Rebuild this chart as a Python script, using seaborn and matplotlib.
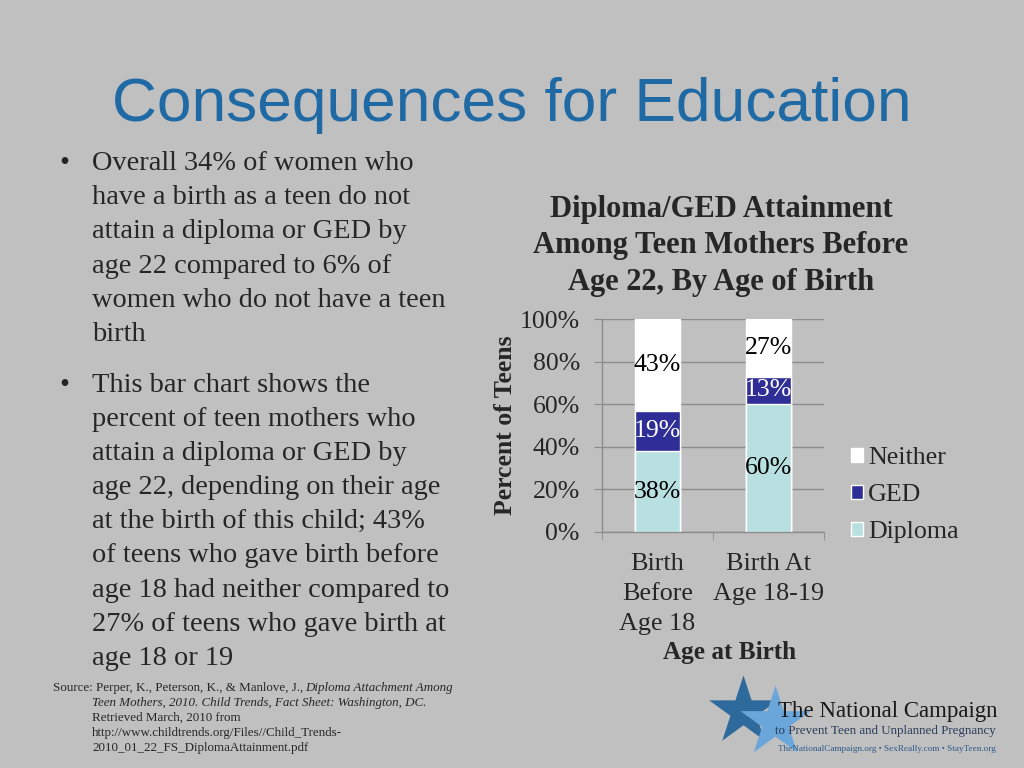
import matplotlib.pyplot as plt
import numpy as np
import pandas as pd
import seaborn as sns
from matplotlib.patches import Patch

# data
groups = ['Birth\nBefore\nAge 18', 'Birth At\nAge 18-19']
diploma = [38, 60]
ged = [19, 13]
neither = [43, 27]
yticks = [0, 20, 40, 60, 80, 100]

bullet1 = ['Overall 34% of women who',
           'have a birth as a teen do not',
           'attain a diploma or GED by',
           'age 22 compared to 6% of',
           'women who do not have a teen',
           'birth']
bullet2 = ['This bar chart shows the',
           'percent of teen mothers who',
           'attain a diploma or GED by',
           'age 22, depending on their age',
           'at the birth of this child; 43%',
           'of teens who gave birth before',
           'age 18 had neither compared to',
           '27% of teens who gave birth at',
           'age 18 or 19']

bg = '#c0c0c0'
title_col = '#1f6aa5'
ged_col = '#2e2e96'
dip_col = '#b8e0e0'
grid_col = '#8c8c8c'

sns.set_style('white')
plt.rcParams['font.family'] = ['Liberation Serif', 'DejaVu Serif']

W, H = 1024, 768
def fx(x):
    return x / W
def fy(y):
    return 1 - y / H

df = pd.DataFrame({'group': groups, 'Diploma': diploma, 'GED': ged, 'Neither': neither})
df['ged_top'] = df['Diploma'] + df['GED']
df['top'] = df['ged_top'] + df['Neither']

fig = plt.figure(figsize=(10.24, 7.68), dpi=100, facecolor=bg)

# slide title
fig.text(fx(512), fy(105), 'Consequences for Education', ha='center', va='center',
         fontsize=44.8, color=title_col, family='Liberation Sans')

# bullets
bfs = 20.4
y = 163
for i, line in enumerate(bullet1):
    if i == 0:
        fig.text(fx(59), fy(y), '•', ha='left', va='center', fontsize=bfs)
    fig.text(fx(92), fy(y), line, ha='left', va='center', fontsize=bfs)
    y += 34.4
y = 385
for i, line in enumerate(bullet2):
    if i == 0:
        fig.text(fx(59), fy(y), '•', ha='left', va='center', fontsize=bfs)
    fig.text(fx(92), fy(y), line, ha='left', va='center', fontsize=bfs)
    y += 34.2

# source
fs = 9.4
fig.text(fx(53), fy(688), 'Source: Perper, K., Peterson, K., & Manlove, J., ', va='center', fontsize=fs)
fig.text(fx(305), fy(688), 'Diploma Attachment Among', va='center', fontsize=fs, style='italic')
fig.text(fx(92), fy(703), 'Teen Mothers, 2010. Child Trends, Fact Sheet: Washington, DC.',
         va='center', fontsize=fs, style='italic')
fig.text(fx(92), fy(718), 'Retrieved March, 2010 from', va='center', fontsize=fs)
fig.text(fx(92), fy(733), 'http://www.childtrends.org/Files//Child_Trends-', va='center', fontsize=fs)
fig.text(fx(92), fy(748), '2010_01_22_FS_DiplomaAttainment.pdf', va='center', fontsize=fs)

# chart title
fig.text(fx(721), fy(246), 'Diploma/GED Attainment\nAmong Teen Mothers Before\nAge 22, By Age of Birth',
         ha='center', va='center', fontsize=22, fontweight='bold', linespacing=1.33)

# chart
ax = fig.add_axes([fx(602), fy(532), 222 / W, 213 / H])
ax.set_facecolor(bg)
sns.barplot(data=df, x='group', y='top', color='white', width=0.4, saturation=1, ax=ax, zorder=2)
sns.barplot(data=df, x='group', y='ged_top', color=ged_col, width=0.4, saturation=1, ax=ax, zorder=2)
sns.barplot(data=df, x='group', y='Diploma', color=dip_col, width=0.4, saturation=1, ax=ax, zorder=2)

for i in range(len(groups)):
    segs = [(0, diploma[i], 'black'), (diploma[i], ged[i], 'white'),
            (diploma[i] + ged[i], neither[i], 'black')]
    for bottom, val, col in segs:
        ax.text(i, bottom + val / 2, f'{val}%', ha='center', va='center',
                fontsize=18.5, color=col, zorder=3)

ax.set_ylim(0, 100)
ax.set_xlim(-0.5, 1.5)
ax.set_yticks(yticks)
ax.set_yticklabels([f'{v}%' for v in yticks], fontsize=18.5)
ax.tick_params(axis='y', length=6, color=grid_col, pad=10, left=True)
ax.set_xticks([-0.5, 0.5, 1.5], minor=True)
ax.tick_params(axis='x', which='minor', length=6, color=grid_col, bottom=True)
ax.tick_params(axis='x', which='major', length=0, pad=15, labelsize=18.8)
for t in ax.get_xticklabels():
    t.set_linespacing(1.47)
ax.yaxis.grid(True, color=grid_col, lw=1)
ax.set_axisbelow(True)
for s in ['top', 'right']:
    ax.spines[s].set_visible(False)
for s in ['left', 'bottom']:
    ax.spines[s].set_color(grid_col)
    ax.spines[s].set_linewidth(1)

ax.set_ylabel('Percent of Teens', fontsize=18.5, fontweight='bold', labelpad=2)
ax.set_xlabel('Age at Birth', fontsize=18.2, fontweight='bold', va='center')
ax.xaxis.set_label_coords((730 - 602) / 222, (532 - 653) / 213)

handles = [Patch(facecolor='white', label='Neither'),
           Patch(facecolor=ged_col, label='GED'),
           Patch(facecolor=dip_col, label='Diploma')]
fig.legend(handles=handles, loc='upper left', bbox_to_anchor=(fx(851), fy(447)),
           frameon=False, fontsize=18.7, handlelength=0.45, handleheight=0.45,
           handletextpad=0.2, labelspacing=0.58, borderaxespad=0, borderpad=0)

# logo
lg = fig.add_axes([0, 0, 1, 1], zorder=-1)
lg.set_xlim(0, W)
lg.set_ylim(H, 0)
lg.axis('off')
lg.scatter([743], [711], marker='*', s=2700, color='#2f6a9c', lw=0)
lg.scatter([775], [722], marker='*', s=2800, color='#6aa6da', lw=0)
fig.text(fx(888), fy(712), 'The National Campaign', ha='center', va='center', fontsize=16.5, color='#1a1a1a')
fig.text(fx(885), fy(731), 'to Prevent Teen and Unplanned Pregnancy', ha='center', va='center',
         fontsize=9.4, color='#2a3a5a')
fig.text(fx(887), fy(749), 'TheNationalCampaign.org • SexReally.com • StayTeen.org', ha='center',
         va='center', fontsize=6.6, color='#2a5a8a')

fig.savefig('out.png', dpi=100, facecolor=bg)
